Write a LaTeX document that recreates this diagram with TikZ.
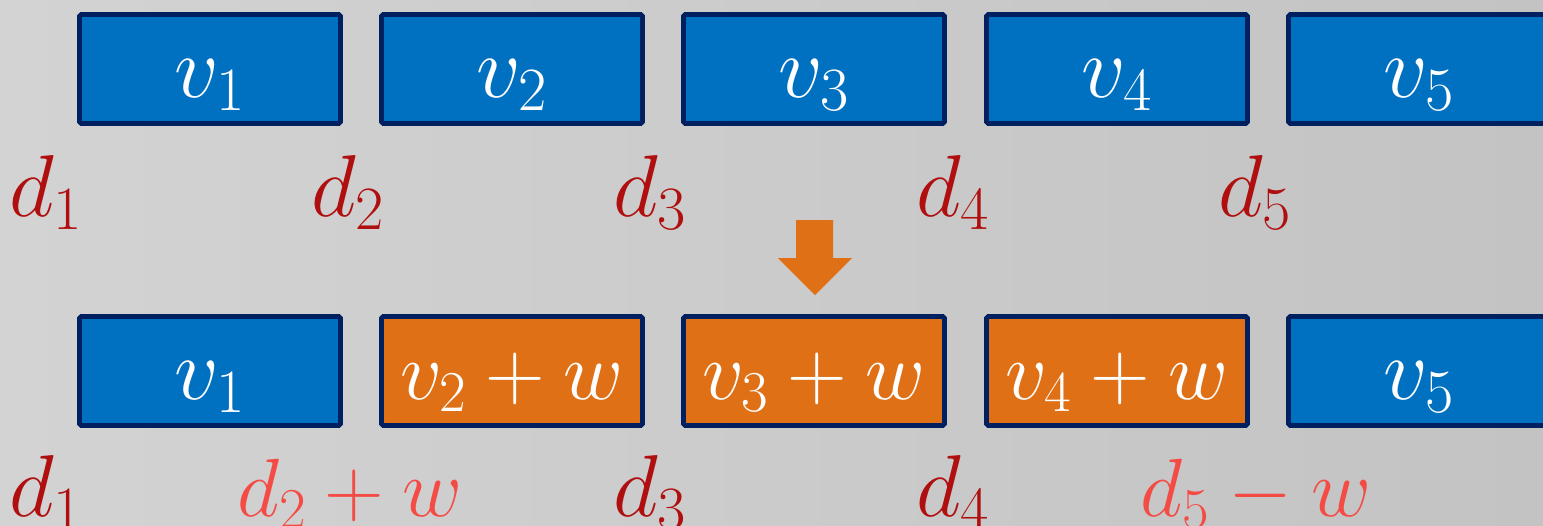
\RequirePackage{fix-cm}
\documentclass[tikz,border=0pt]{standalone}
\definecolor{vblue}{HTML}{0070C0}
\definecolor{vnavy}{HTML}{002060}
\definecolor{vorange}{HTML}{DF7015}
\definecolor{ddark}{HTML}{B00F0F}
\definecolor{dlight}{HTML}{F44B45}
\definecolor{bgl}{HTML}{D3D3D3}
\definecolor{bgr}{HTML}{C3C3C3}
\begin{document}
\begin{tikzpicture}[x=0.02cm,y=-0.02cm,
		cell/.style={draw=vnavy,line width=2.8pt,rounded corners=1pt,minimum width=5.22cm,minimum height=2.18cm,inner sep=0pt,text=white,text height=45pt,text depth=13pt,font=\fontsize{50}{60}\selectfont},
		oldcell/.style={cell,fill=vblue},
		newcell/.style={cell,fill=vorange,font=\fontsize{47}{56}\selectfont},
		dlab/.style={anchor=base,inner sep=0pt,text=ddark,font=\fontsize{50}{60}\selectfont},
		dnew/.style={dlab,text=dlight,font=\fontsize{47}{56}\selectfont}]
	\clip (0,0) rectangle (1543,525);
	\shade[left color=bgl,right color=bgr] (0,0) rectangle (1543,525);
	% before
	\foreach \i/\x in {1/210,2/512,3/814,4/1117,5/1419}{
		\node[oldcell] (v\i) at (\x,69) {$v_\i$};
		\node[dlab] (d\i) at (\x-164,216) {$d_\i$};
	}
	% arrow
	\fill[vorange] (796,220) -- (833,220) -- (833,258) -- (852,258) -- (815,295) -- (778,258) -- (796,258) -- cycle;
	% after
	\node[oldcell] (n1) at (210,371) {$v_1$};
	\node[newcell] (n2) at (512,371) {$v_2+w$};
	\node[newcell] (n3) at (814,371) {$v_3+w$};
	\node[newcell] (n4) at (1117,371) {$v_4+w$};
	\node[oldcell] (n5) at (1419,371) {$v_5$};
	\node[dlab] (e1) at (46,516) {$d_1$};
	\node[dnew] (e2) at (350,516) {$d_2+w$};
	\node[dlab] (e3) at (650,516) {$d_3$};
	\node[dlab] (e4) at (953,516) {$d_4$};
	\node[dnew] (e5) at (1256,516) {$d_5-w$};
\end{tikzpicture}
\end{document}
